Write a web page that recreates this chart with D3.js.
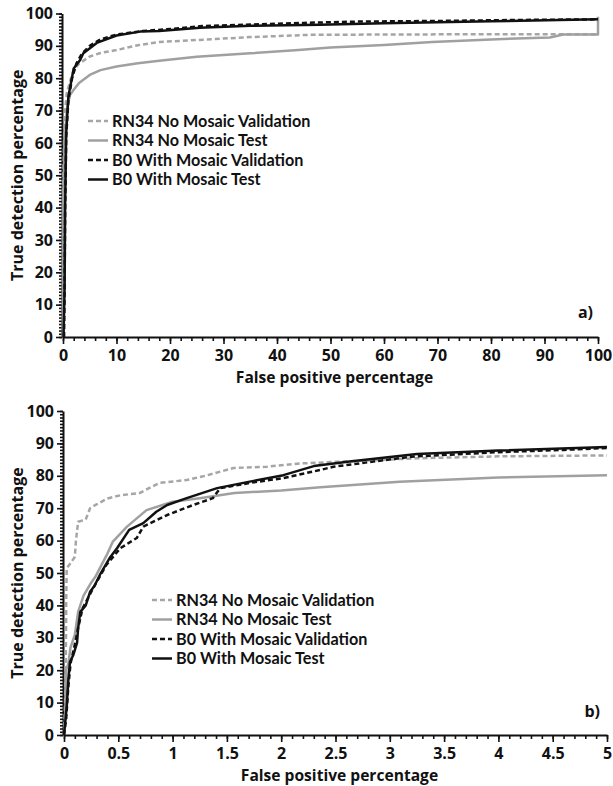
<!DOCTYPE html>
<html>
<head>
<meta charset="utf-8">
<script src="https://cdn.jsdelivr.net/npm/d3@7"></script>
<style>
    body { margin: 0; background: #fff; }
    svg text { font-family: "Open Sans", "DejaVu Sans", sans-serif; font-weight: bold; fill: #111; }
    svg .legend text { font-family: Lato, "Open Sans", sans-serif; }
</style>
</head>
<body>
<svg id="chart" width="613" height="786"></svg>
<script>
// series labels (legend order)
const seriesNames = ["RN34 No Mosaic Validation", "RN34 No Mosaic Test", "B0 With Mosaic Validation", "B0 With Mosaic Test"];

// panel a) full range, [false positive %, true detection %]
const rn34ValA = [[0, 0], [0, 45], [0.2, 60], [0.4, 70], [0.7, 75.4], [1.5, 80], [2, 82.5], [3, 84.5], [5, 86.7], [7, 87.8], [10, 88.7], [14, 90.2], [18, 91.2], [25, 91.8], [35, 92.7], [46, 93.4], [60, 93.5], [80, 93.6], [100, 93.6]];
const rn34TestA = [[0, 0], [0, 40], [0.3, 60], [0.7, 70], [1.3, 74.8], [2, 76.4], [3, 78.5], [5, 81], [7, 82.5], [10, 83.6], [14, 84.6], [18, 85.4], [25, 86.6], [35, 87.7], [44, 88.7], [50, 89.5], [60, 90.3], [69, 91.2], [80, 92], [91, 92.6], [93.5, 93.5], [100, 93.5], [100, 99]];
const b0ValA = [[0.2, 0], [0.3, 15], [0.4, 40], [0.6, 62], [1, 73], [1.7, 80], [2.5, 84.5], [3.5, 87.5], [5, 90], [7, 92], [10, 93.5], [15, 94.6], [20, 95.2], [26, 96.1], [35, 96.6], [45, 97.1], [55, 97.5], [70, 97.7], [85, 98], [100, 98.2]];
const b0TestA = [[0.1, 0], [0.3, 15], [0.4, 40], [0.6, 63], [1, 74.3], [2, 83], [3.2, 85.6], [3.8, 87.7], [6.3, 90.9], [10, 93.2], [14.4, 94.4], [18, 94.6], [25.6, 95.6], [35, 96.2], [48, 96.5], [60, 97], [80, 97.6], [100, 98.2]];

// panel b) zoom 0-5 % false positives
const rn34ValB = [[0, 0], [0.01, 10], [0.015, 20], [0.02, 35], [0.02, 41], [0.025, 51.5], [0.06, 53], [0.1, 55], [0.11, 60], [0.13, 65.8], [0.2, 66.5], [0.24, 70], [0.29, 71], [0.4, 73], [0.52, 74], [0.7, 74.7], [0.8, 76.5], [0.88, 77.8], [1.13, 78.7], [1.3, 80], [1.56, 82.4], [1.87, 82.8], [2.17, 83.8], [2.5, 84.3], [3.25, 85.4], [4, 86], [5, 86.3]];
const rn34TestB = [[0, 0], [0.02, 10], [0.02, 20], [0.04, 22], [0.06, 27], [0.1, 31], [0.13, 38], [0.18, 43], [0.25, 47], [0.29, 48.9], [0.33, 51.5], [0.4, 56], [0.45, 59.7], [0.58, 64.3], [0.76, 69.4], [1, 72], [1.25, 73.1], [1.57, 74.7], [2, 75.5], [2.36, 76.5], [3.09, 78.2], [4, 79.5], [5, 80.2]];
const b0ValB = [[0, 0], [0.02, 5], [0.04, 15], [0.06, 22], [0.1, 28], [0.13, 33], [0.17, 39], [0.27, 45.4], [0.39, 52.5], [0.52, 57.7], [0.67, 60.8], [0.73, 64.3], [0.95, 67.9], [1.19, 71], [1.37, 73.1], [1.44, 76.2], [1.71, 77.8], [2.02, 79.3], [2.36, 81.8], [2.48, 82.8], [3.2, 85.9], [4, 87.3], [4.6, 88], [5, 88.6]];
const b0TestB = [[0, 0], [0.025, 8.7], [0.04, 17], [0.055, 22.6], [0.086, 24.7], [0.12, 28.4], [0.13, 33], [0.15, 38], [0.2, 40], [0.24, 44.2], [0.28, 46], [0.33, 49.4], [0.42, 54.6], [0.49, 57.7], [0.6, 63.3], [0.73, 65.4], [0.85, 68.9], [0.95, 71], [1.13, 73.1], [1.41, 76.2], [1.71, 78.2], [2.02, 80.2], [2.3, 83], [2.63, 84.4], [3.25, 86.7], [4, 87.8], [5, 88.9]];

// tick labels
const yTicks = [0, 10, 20, 30, 40, 50, 60, 70, 80, 90, 100];
const xTicksA = [0, 10, 20, 30, 40, 50, 60, 70, 80, 90, 100];
const xTicksB = [0, 0.5, 1, 1.5, 2, 2.5, 3, 3.5, 4, 4.5, 5];

const styles = [
    { color: "#a6a6a6", dash: "5,3" },
    { color: "#a0a0a0", dash: null },
    { color: "#111", dash: "5,3" },
    { color: "#111", dash: null }
];

const svg = d3.select("#chart");

function drawPanel(opts) {
    const x = d3.scaleLinear().domain(opts.xDomain).range(opts.xRange);
    const y = d3.scaleLinear().domain([0, 100]).range(opts.yRange);
    const g = svg.append("g");

    // minor ticks first, then major with labels
    g.append("g")
        .attr("transform", `translate(${opts.xRange[0] - 1},0)`)
        .call(d3.axisLeft(y).tickValues(d3.range(0, 101, 1)).tickSize(3).tickFormat(""))
        .call(a => a.select(".domain").remove());
    g.append("g")
        .attr("transform", `translate(0,${opts.yRange[0]})`)
        .call(d3.axisBottom(x).tickValues(opts.xMinor).tickSize(4).tickFormat(""))
        .call(a => a.select(".domain").remove());

    const yAxis = g.append("g")
        .attr("transform", `translate(${opts.xRange[0] - 1},0)`)
        .call(d3.axisLeft(y).tickValues(yTicks).tickSize(6).tickSizeOuter(0).tickPadding(3));
    const xAxis = g.append("g")
        .attr("transform", `translate(0,${opts.yRange[0]})`)
        .call(d3.axisBottom(x).tickValues(opts.xTicks).tickSize(7).tickSizeOuter(0).tickPadding(6)
            .tickFormat(d => String(d)));

    g.selectAll(".tick line").attr("stroke", "#111").attr("stroke-width", 1.6);
    g.selectAll(".domain").attr("stroke", "#111").attr("stroke-width", 2);
    yAxis.selectAll("text").style("font-size", "16px");
    xAxis.selectAll("text").style("font-size", "16px");

    // curves
    const line = d3.line().x(d => x(d[0])).y(d => y(d[1]));
    opts.series.forEach((data, i) => {
        g.append("path")
            .datum(data)
            .attr("fill", "none")
            .attr("stroke", styles[i].color)
            .attr("stroke-width", 2.5)
            .attr("stroke-dasharray", styles[i].dash)
            .attr("stroke-linejoin", "round")
            .attr("d", line);
    });

    // axis titles
    g.append("text")
        .attr("x", (opts.xRange[0] + opts.xRange[1]) / 2 + 4)
        .attr("y", opts.yRange[0] + 46)
        .attr("text-anchor", "middle")
        .style("font-size", "15.6px")
        .text("False positive percentage");
    g.append("text")
        .attr("transform", `translate(23,${(opts.yRange[0] + opts.yRange[1]) / 2}) rotate(-90)`)
        .attr("text-anchor", "middle")
        .style("font-size", "16px")
        .text("True detection percentage");

    // panel label
    g.append("text")
        .attr("x", opts.tag[0])
        .attr("y", opts.tag[1])
        .attr("text-anchor", "end")
        .style("font-size", "16px")
        .text(opts.tagText);

    // legend
    const leg = g.append("g")
        .attr("class", "legend")
        .attr("transform", `translate(${opts.legend[0]},${opts.legend[1]})`);
    seriesNames.forEach((name, i) => {
        const row = leg.append("g").attr("transform", `translate(0,${i * opts.legendStep})`);
        row.append("line")
            .attr("x1", 0).attr("x2", 20)
            .attr("stroke", styles[i].color)
            .attr("stroke-width", 2.5)
            .attr("stroke-dasharray", styles[i].dash);
        row.append("text")
            .attr("x", 24)
            .attr("dy", "0.35em")
            .style("font-size", "16.2px")
            .text(name);
    });
}

drawPanel({
    xDomain: [0, 100], xRange: [63, 598], yRange: [337, 13.5],
    xTicks: xTicksA, xMinor: d3.range(0, 101, 2),
    series: [rn34ValA, rn34TestA, b0ValA, b0TestA],
    legend: [88, 121], legendStep: 19.5,
    tag: [593, 318], tagText: "a)"
});

drawPanel({
    xDomain: [0, 5], xRange: [64, 607], yRange: [735, 411],
    xTicks: xTicksB, xMinor: d3.range(0, 5.001, 0.1),
    series: [rn34ValB, rn34TestB, b0ValB, b0TestB],
    legend: [152, 600], legendStep: 19.5,
    tag: [600, 717], tagText: "b)"
});
</script>
</body>
</html>
